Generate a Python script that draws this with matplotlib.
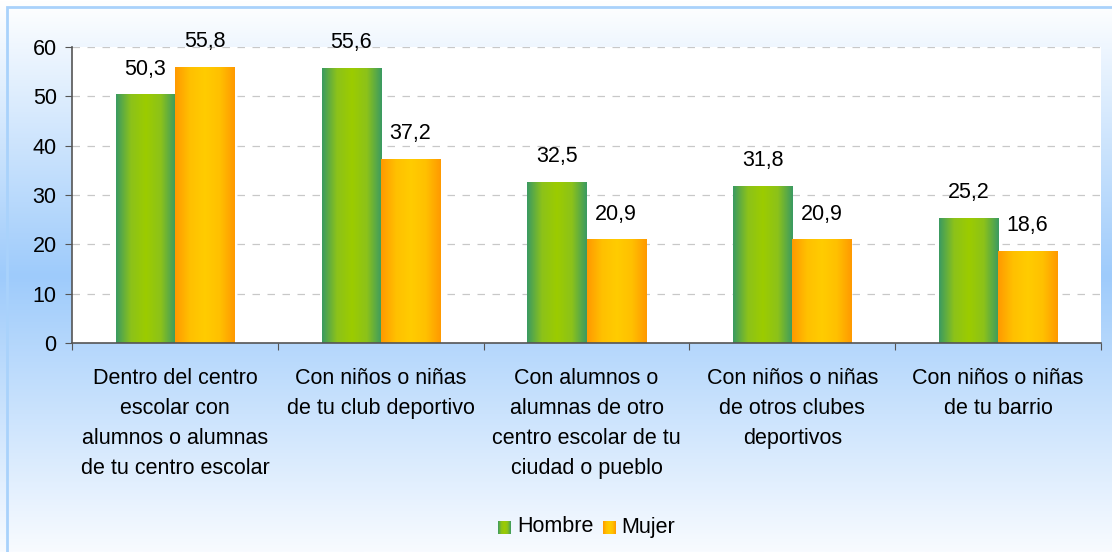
import numpy as np
import matplotlib.pyplot as plt
from matplotlib.colors import LinearSegmentedColormap
from matplotlib.patches import Rectangle

plt.rcParams['font.family'] = ['Liberation Sans', 'DejaVu Sans']

categorias = ['Dentro del centro\nescolar con\nalumnos o alumnas\nde tu centro escolar',
              'Con niños o niñas\nde tu club deportivo',
              'Con alumnos o\nalumnas de otro\ncentro escolar de tu\nciudad o pueblo',
              'Con niños o niñas\nde otros clubes\ndeportivos',
              'Con niños o niñas\nde tu barrio']
hombre = [50.3, 55.6, 32.5, 31.8, 25.2]
mujer = [55.8, 37.2, 20.9, 20.9, 18.6]
series = ['Hombre', 'Mujer']

# gradients for the bars (edge -> center -> edge)
cmap_h = LinearSegmentedColormap.from_list('h', ['#3a9a62', '#8cc21a', '#9ccc00', '#8cc21a', '#3a9a62'])
cmap_m = LinearSegmentedColormap.from_list('m', ['#ff9900', '#ffc000', '#ffcc00', '#ffc000', '#ff9900'])
grad = np.linspace(0, 1, 256).reshape(1, -1)

fs = 15.5

fig = plt.figure(figsize=(11.12, 5.52), dpi=100)

# background gradient of the figure
bg = fig.add_axes([0, 0, 1, 1], zorder=-10)
bg_cmap = LinearSegmentedColormap.from_list('bg', [(0, '#ffffff'), (0.5, '#9ecbfb'), (1, '#f8fbff')])
bg.imshow(np.linspace(0, 1, 256).reshape(-1, 1), aspect='auto', cmap=bg_cmap, extent=[0, 1, 0, 1])
bg.add_patch(Rectangle((7 / 1112, -0.1), 1.2, 1.1 - 7 / 552, fill=False, ec='#a9d2fb', lw=2))
bg.set_xlim(0, 1)
bg.set_ylim(0, 1)
bg.axis('off')

ax = fig.add_axes([72 / 1112, 1 - 343 / 552, (1101 - 72) / 1112, (343 - 47) / 552])
ax.set_facecolor('white')

x = np.arange(len(categorias))
w = 0.287
for vals, off, cmap, name in [(hombre, -w / 2, cmap_h, series[0]), (mujer, w / 2, cmap_m, series[1])]:
    bars = ax.bar(x + off, vals, w, color='none', label=name, zorder=2)
    for b, v in zip(bars, vals):
        x0 = b.get_x()
        ax.imshow(grad, aspect='auto', cmap=cmap, extent=[x0, x0 + w, 0, v], zorder=2)
        ax.annotate(f'{v:.1f}'.replace('.', ','), (x0 + w / 2, v), xytext=(0, 11),
                    textcoords='offset points', ha='center', va='bottom', fontsize=fs,
                    annotation_clip=False)

ax.set_xlim(-0.5, len(categorias) - 0.5)
ax.set_ylim(0, 60)
ax.set_yticks(range(0, 61, 10))
ax.set_xticks(np.arange(-0.5, len(categorias)), minor=False)
ax.set_xticklabels([])
ax.set_xticks(x, minor=True)
ax.set_xticklabels(categorias, minor=True, fontsize=fs, linespacing=1.57, va='top')
ax.tick_params(axis='x', which='minor', length=0, pad=18)
ax.tick_params(axis='x', which='major', length=5, direction='out', color='#555555')
ax.tick_params(axis='y', length=5, direction='out', color='#555555', labelsize=fs, pad=6)
ax.yaxis.grid(True, color='#c8c8c8', linestyle=(0, (6, 6)), lw=0.9)
ax.set_axisbelow(True)
for s in ['top', 'right']:
    ax.spines[s].set_visible(False)
for s in ['left', 'bottom']:
    ax.spines[s].set_color('#555555')
    ax.spines[s].set_linewidth(1.2)

# legend with gradient swatches
lx = [498, 603]
tx = [517, 621]
for i, (cmap, name) in enumerate([(cmap_h, series[0]), (cmap_m, series[1])]):
    bg.imshow(grad, aspect='auto', cmap=cmap,
              extent=[lx[i] / 1112, (lx[i] + 13) / 1112, 1 - 534 / 552, 1 - 521 / 552], zorder=3)
    bg.text(tx[i] / 1112, 1 - 527 / 552, name, fontsize=fs, va='center', ha='left')
bg.set_xlim(0, 1)
bg.set_ylim(0, 1)

fig.savefig('out.png', dpi=100)
